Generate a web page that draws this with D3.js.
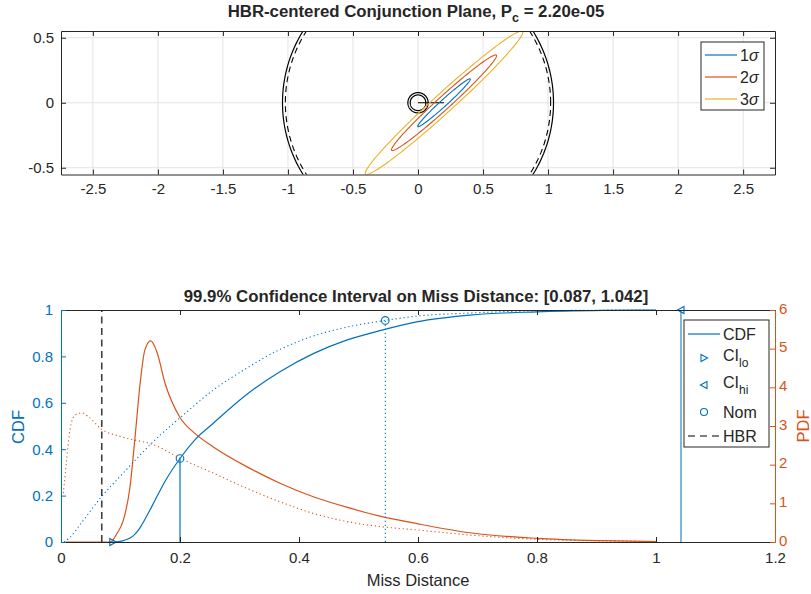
<!DOCTYPE html>
<html><head><meta charset="utf-8">
<script src="https://cdn.jsdelivr.net/npm/d3@7"></script>
<style>
body{margin:0;background:#fff}
text{font-family:"Liberation Sans",Arial,Helvetica,sans-serif;fill:#262626}
</style>
</head><body>
<svg id="c" width="811" height="594"></svg>
<script>
// ---------- data: top panel ----------
const topXTicks = [-2.5,-2,-1.5,-1,-0.5,0,0.5,1,1.5,2,2.5];
const topYTicks = [-0.5,0,0.5];
const sigmaLevels = [1,2,3];
const sigmaNames = ["1","2","3"];
const ellipseCenter = [0.2, 0];
const ellipseSemiMajor1 = 0.272;
const ellipseSemiMinor1 = 0.025;
const ellipseAngleDeg = 42.3;
const missVectorX = [0, 0.2];
const missVectorY = [0, 0];
const solidRingRadii = [1.042, 0.078];
const dashedRingRadii = [1.02];
const innerRingRadii = [0.06];

// ---------- data: bottom panel ----------
const xTicksB = [0,0.2,0.4,0.6,0.8,1,1.2];
const cdfTicks = [0,0.2,0.4,0.6,0.8,1];
const pdfTicks = [0,1,2,3,4,5,6];
const cdfX = [0.083,0.094,0.105,0.116,0.124,0.133,0.141,0.151,0.161,0.175,0.2,0.225,0.256,0.312,0.368,0.424,0.48,0.536,0.6,0.687,0.8,0.911,1.0];
const cdfVals = [0,0.001,0.006,0.017,0.033,0.062,0.097,0.145,0.195,0.262,0.36,0.44,0.512,0.636,0.734,0.812,0.87,0.911,0.95,0.978,0.992,0.998,1.0];
const pdfX = [0.007,0.083,0.094,0.105,0.116,0.124,0.133,0.141,0.151,0.161,0.175,0.2,0.225,0.256,0.312,0.368,0.424,0.48,0.536,0.6,0.687,0.8,0.911,1.0];
const pdfVals = [0,0,0.22,0.57,1.43,2.64,4.1,4.97,5.2,4.92,4.1,3.22,2.81,2.46,1.95,1.52,1.17,0.9,0.67,0.47,0.24,0.095,0.034,0.01];
const nomCdfX = [0.005,0.015,0.035,0.068,0.102,0.158,0.2,0.256,0.312,0.368,0.424,0.48,0.545,0.6,0.687,0.771,0.85,1.0];
const nomCdfVals = [0,0.02,0.085,0.195,0.29,0.44,0.535,0.655,0.749,0.83,0.888,0.926,0.955,0.974,0.987,0.995,0.998,1.0];
const nomPdfX = [0.004,0.0095,0.015,0.0235,0.035,0.046,0.068,0.102,0.158,0.2,0.256,0.312,0.368,0.424,0.48,0.536,0.6,0.687,0.8,0.9,1.0];
const nomPdfVals = [1.26,2.12,2.9,3.28,3.34,3.24,2.92,2.72,2.5,2.17,1.78,1.39,1.04,0.74,0.53,0.40,0.31,0.18,0.07,0.03,0.01];
const hbrValue = 0.0685;
const ciLo = 0.087, ciHi = 1.042;
const ciLoCdf = 0, ciHiCdf = 1;
const nomMiss = 0.2, nomMissCdf = 0.36;
const nomMarkX = 0.545, nomMarkCdf = 0.955;
const legendB = ["CDF","CI","CI","Nom","HBR"];

const BLUE="#0072BD", ORANGE="#D95319", YELLOW="#EDB120", AX="#262626";
const FS=15;
const svg = d3.select("#c");

// ================= TOP PANEL =================
const xT = d3.scaleLinear([-2.745,2.745],[61,775]);
const yT = d3.scaleLinear([-0.552,0.552],[174.5,31]);
const topG = svg.append("g");
topG.append("defs").append("clipPath").attr("id","clipT")
  .append("rect").attr("x",61).attr("y",31).attr("width",714).attr("height",143.5);
topG.selectAll(".gx").data(topXTicks).join("line")
  .attr("x1",d=>xT(d)).attr("x2",d=>xT(d)).attr("y1",31).attr("y2",174.5)
  .attr("stroke","#e3e3e3").attr("stroke-width",1);
topG.selectAll(".gy").data(topYTicks).join("line")
  .attr("y1",d=>yT(d)).attr("y2",d=>yT(d)).attr("x1",61).attr("x2",775)
  .attr("stroke","#e3e3e3").attr("stroke-width",1);

const plotT = topG.append("g").attr("clip-path","url(#clipT)");
const circ = d3.line().x(d=>xT(d[0])).y(d=>yT(d[1]));
function ringPts(r){ return d3.range(0,361,2).map(a=>[r*Math.cos(a*Math.PI/180), r*Math.sin(a*Math.PI/180)]); }
solidRingRadii.forEach(r=>plotT.append("path").attr("d",circ(ringPts(r))).attr("fill","none").attr("stroke","#000").attr("stroke-width",1.2));
innerRingRadii.forEach(r=>plotT.append("path").attr("d",circ(ringPts(r))).attr("fill","none").attr("stroke","#000").attr("stroke-width",1.2));
dashedRingRadii.forEach(r=>plotT.append("path").attr("d",circ(ringPts(r))).attr("fill","none").attr("stroke","#000").attr("stroke-width",1.1).attr("stroke-dasharray","6,4"));
plotT.append("path").attr("d",circ(missVectorX.map((x,i)=>[x,missVectorY[i]])))
  .attr("stroke","#000").attr("stroke-width",1.2).attr("fill","none");
const th = ellipseAngleDeg*Math.PI/180;
const ellColors=[BLUE,ORANGE,YELLOW];
sigmaLevels.forEach((k,i)=>{
  const a=ellipseSemiMajor1*k, b=ellipseSemiMinor1*k;
  const pts=d3.range(0,361,2).map(t=>{const u=t*Math.PI/180;const px=a*Math.cos(u),py=b*Math.sin(u);
    return [ellipseCenter[0]+px*Math.cos(th)-py*Math.sin(th), ellipseCenter[1]+px*Math.sin(th)+py*Math.cos(th)];});
  plotT.append("path").attr("d",circ(pts)).attr("fill","none").attr("stroke",ellColors[i]).attr("stroke-width",1.1);
});
function styleAxis(g,color){ g.select(".domain").attr("stroke",color).attr("stroke-width",1);
  g.selectAll(".tick line").attr("stroke",color);
  g.selectAll(".tick text").attr("font-size",FS).attr("font-family","Liberation Sans, Arial, sans-serif").style("fill",color==AX?"#262626":color); }
const fmt = d=>String(d);
topG.append("g").attr("transform","translate(0,174.5)")
  .call(d3.axisBottom(xT).tickValues(topXTicks).tickFormat(fmt).tickSizeInner(-5).tickSizeOuter(0).tickPadding(9))
  .call(g=>styleAxis(g,AX));
topG.append("g").attr("transform","translate(0,31)")
  .call(d3.axisTop(xT).tickValues(topXTicks).tickFormat("").tickSizeInner(-5).tickSizeOuter(0))
  .call(g=>styleAxis(g,AX));
topG.append("g").attr("transform","translate(61,0)")
  .call(d3.axisLeft(yT).tickValues(topYTicks).tickFormat(fmt).tickSizeInner(-5).tickSizeOuter(0).tickPadding(7))
  .call(g=>styleAxis(g,AX));
topG.append("g").attr("transform","translate(775,0)")
  .call(d3.axisRight(yT).tickValues(topYTicks).tickFormat("").tickSizeInner(-5).tickSizeOuter(0))
  .call(g=>styleAxis(g,AX));
const t1 = topG.append("text").attr("x",416).attr("y",17).attr("text-anchor","middle")
  .attr("font-size",16.8).attr("font-weight","bold");
t1.append("tspan").text("HBR-centered Conjunction Plane, P");
t1.append("tspan").attr("font-size",12.5).attr("dy",5).text("c");
t1.append("tspan").attr("dy",-5).text(" = 2.20e-05");
const lgT = topG.append("g");
lgT.append("rect").attr("x",701).attr("y",42).attr("width",63).attr("height",68)
  .attr("fill","#fff").attr("stroke",AX).attr("stroke-width",1);
sigmaLevels.forEach((k,i)=>{
  const y=55+i*22;
  lgT.append("line").attr("x1",705).attr("x2",737).attr("y1",y).attr("y2",y).attr("stroke",ellColors[i]).attr("stroke-width",1.2);
  const tx=lgT.append("text").attr("x",740).attr("y",y+5.5).attr("font-size",16);
  tx.append("tspan").text(sigmaNames[i]);
  tx.append("tspan").attr("font-style","italic").text("σ");
});

// ================= BOTTOM PANEL =================
const xB = d3.scaleLinear([0,1.2],[61,775]);
const yC = d3.scaleLinear([0,1],[542,310]);
const yP = d3.scaleLinear([0,6],[542,310]);
const bot = svg.append("g");
const lineC = (xs,ys)=>d3.line().x((d,i)=>xB(xs[i])).y((d,i)=>yC(ys[i])).curve(d3.curveMonotoneX)(xs);
const lineP = (xs,ys)=>d3.line().x((d,i)=>xB(xs[i])).y((d,i)=>yP(ys[i])).curve(d3.curveMonotoneX)(xs);

bot.append("path").attr("d",lineP(nomPdfX,nomPdfVals)).attr("fill","none").attr("stroke",ORANGE).attr("stroke-width",1.1).attr("stroke-dasharray","1.2,2.8");
bot.append("path").attr("d",lineP(pdfX,pdfVals)).attr("fill","none").attr("stroke",ORANGE).attr("stroke-width",1.2);
bot.append("path").attr("d",lineC(nomCdfX,nomCdfVals)).attr("fill","none").attr("stroke",BLUE).attr("stroke-width",1.1).attr("stroke-dasharray","1.2,2.8");
bot.append("path").attr("d",lineC(cdfX,cdfVals)).attr("fill","none").attr("stroke",BLUE).attr("stroke-width",1.2);
bot.append("line").attr("x1",xB(hbrValue)).attr("x2",xB(hbrValue)).attr("y1",yC(0)).attr("y2",yC(1))
  .attr("stroke","#404040").attr("stroke-width",1.6).attr("stroke-dasharray","7,4.5");
bot.append("line").attr("x1",xB(nomMiss)).attr("x2",xB(nomMiss)).attr("y1",yC(0)).attr("y2",yC(nomMissCdf)).attr("stroke",BLUE).attr("stroke-width",1.2);
bot.append("line").attr("x1",xB(nomMarkX)).attr("x2",xB(nomMarkX)).attr("y1",yC(0)).attr("y2",yC(nomMarkCdf)).attr("stroke",BLUE).attr("stroke-width",1.1).attr("stroke-dasharray","1.2,2.8");
bot.append("line").attr("x1",xB(ciHi)).attr("x2",xB(ciHi)).attr("y1",yC(0)).attr("y2",yC(ciHiCdf)).attr("stroke",BLUE).attr("stroke-width",1.2).attr("stroke-opacity",0.85);
function circMark(g,cx,cy){ g.append("circle").attr("cx",cx).attr("cy",cy).attr("r",3.8).attr("fill","none").attr("stroke",BLUE).attr("stroke-width",1.1); }
function triR(g,cx,cy){ g.append("path").attr("d",`M${cx-3},${cy-3.6}L${cx+3.6},${cy}L${cx-3},${cy+3.6}Z`).attr("fill","none").attr("stroke",BLUE).attr("stroke-width",1.1); }
function triL(g,cx,cy){ g.append("path").attr("d",`M${cx+3},${cy-3.6}L${cx-3.6},${cy}L${cx+3},${cy+3.6}Z`).attr("fill","none").attr("stroke",BLUE).attr("stroke-width",1.1); }
circMark(bot,xB(nomMiss),yC(nomMissCdf));
circMark(bot,xB(nomMarkX),yC(nomMarkCdf));
triR(bot,xB(ciLo),yC(ciLoCdf));
triL(bot,xB(ciHi),yC(ciHiCdf));

bot.append("g").attr("transform","translate(0,542)")
  .call(d3.axisBottom(xB).tickValues(xTicksB).tickFormat(fmt).tickSizeInner(-5).tickSizeOuter(0).tickPadding(10))
  .call(g=>styleAxis(g,AX));
bot.append("g").attr("transform","translate(0,310)")
  .call(d3.axisTop(xB).tickValues(xTicksB).tickFormat("").tickSizeInner(-5).tickSizeOuter(0))
  .call(g=>styleAxis(g,AX));
bot.append("g").attr("transform","translate(61,0)")
  .call(d3.axisLeft(yC).tickValues(cdfTicks).tickFormat(fmt).tickSizeInner(-5).tickSizeOuter(0).tickPadding(8))
  .call(g=>styleAxis(g,BLUE));
bot.append("g").attr("transform","translate(775,0)")
  .call(d3.axisRight(yP).tickValues(pdfTicks).tickFormat(fmt).tickSizeInner(-5).tickSizeOuter(0).tickPadding(4))
  .call(g=>styleAxis(g,ORANGE))
  .call(g=>g.selectAll(".tick text").attr("dy","0.2em"));
bot.append("text").attr("x",418).attr("y",586).attr("text-anchor","middle").attr("font-size",16.5).text("Miss Distance");
bot.append("text").attr("transform","translate(24,427) rotate(-90)").attr("text-anchor","middle").attr("font-size",16.5).style("fill",BLUE).text("CDF");
bot.append("text").attr("transform","translate(809,426) rotate(-90)").attr("text-anchor","middle").attr("font-size",16.5).style("fill",ORANGE).text("PDF");
bot.append("text").attr("x",416).attr("y",302).attr("text-anchor","middle").attr("font-size",16.8).attr("font-weight","bold")
  .text(`99.9% Confidence Interval on Miss Distance: [${ciLo.toFixed(3)}, ${ciHi.toFixed(3)}]`);

const lgB = bot.append("g");
lgB.append("rect").attr("x",684).attr("y",320).attr("width",85).attr("height",127).attr("fill","#fff").attr("stroke",AX).attr("stroke-width",1);
const rowsY=[334,358,385,412,436];
lgB.append("line").attr("x1",688).attr("x2",720).attr("y1",rowsY[0]).attr("y2",rowsY[0]).attr("stroke",BLUE).attr("stroke-width",1.2);
triR(lgB,704,rowsY[1]);
triL(lgB,704,rowsY[2]);
lgB.append("circle").attr("cx",704).attr("cy",rowsY[3]).attr("r",3.5).attr("fill","none").attr("stroke",BLUE).attr("stroke-width",1.1);
lgB.append("line").attr("x1",688).attr("x2",720).attr("y1",rowsY[4]).attr("y2",rowsY[4]).attr("stroke","#000").attr("stroke-width",1.1).attr("stroke-dasharray","7,5");
const subs=[null,"lo","hi",null,null];
legendB.forEach((s,i)=>{
  const t=lgB.append("text").attr("x",723).attr("y",rowsY[i]+(subs[i]?3:5.5)).attr("font-size",16);
  t.append("tspan").text(s);
  if(subs[i]) t.append("tspan").attr("font-size",12).attr("dy",6).text(subs[i]);
});
</script>
</body></html>
